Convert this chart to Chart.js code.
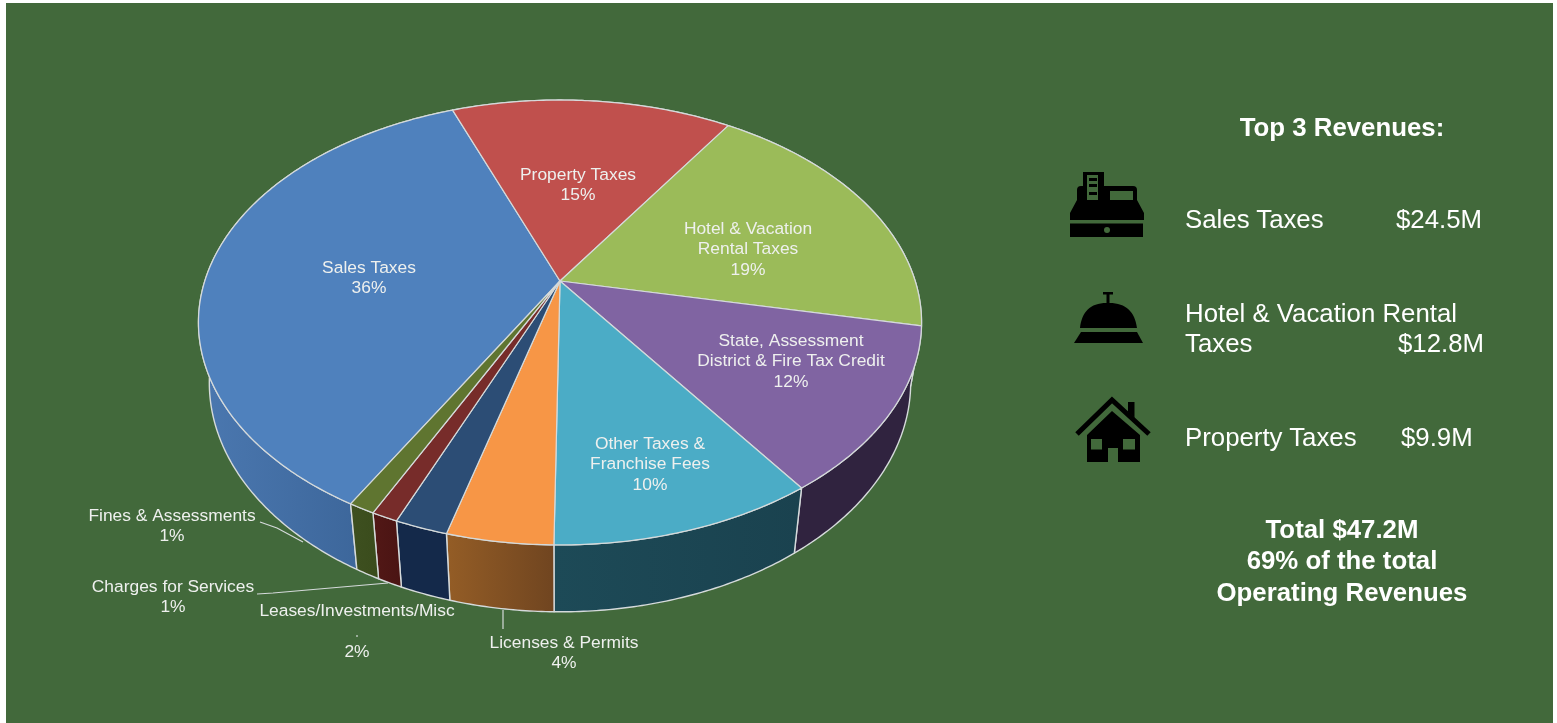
<!DOCTYPE html>
<html>
<head>
<meta charset="utf-8">
<title>Operating Revenues</title>
<script src="https://cdn.jsdelivr.net/npm/chart.js@4"></script>
<style>
  html, body { margin: 0; padding: 0; background: #fff; width: 1557px; height: 723px; overflow: hidden; }
  body { position: relative; font-family: "Liberation Sans", Arial, sans-serif; }
  #panel { position: absolute; left: 6px; top: 3px; width: 1547px; height: 720px; background: #42693b; }
  #revenueChart { position: absolute; left: 0; top: 0; }
  #icons { position: absolute; left: 0; top: 0; }
  .side { position: absolute; color: #fff; font-size: 25.8px; line-height: 30px; white-space: nowrap; }
  .head { font-weight: bold; text-align: center; width: 400px; left: 1142px; font-size: 25.8px; }
</style>
</head>
<body>
<div id="panel"></div>
<canvas id="revenueChart" width="1557" height="723"></canvas>

<svg id="icons" width="1557" height="723" viewBox="0 0 1557 723">
  <!-- cash register -->
  <path d="M1083 172h21v14h29a4 4 0 0 1 4 4v10l7 13v7h-74v-7l7-13v-10a4 4 0 0 1 4-4h2z" fill="#000"/>
  <rect x="1070" y="223.500" width="73" height="13.500" fill="#000"/>
  <rect x="1110" y="191" width="23" height="9" fill="#42693b"/>
  <path d="M1087 175h11v25h-11z" fill="#42693b"/>
  <path d="M1089 178h8v3h-8zM1089 184h8v3h-8zM1089 192h8v3h-8z" fill="#000"/>
  <circle cx="1107" cy="230" r="3" fill="#42693b"/>
  <!-- service bell -->
  <path d="M1103 292h10v2.500h-3.500v8.500C1126 303 1135 312 1137 328H1080C1082 312 1090 303 1106.500 303v-8.500h-3.500z" fill="#000"/>
  <path d="M1081 332h56l6 11h-69z" fill="#000"/>
  <!-- house -->
  <path d="M1077 434L1112 400L1149 434" fill="none" stroke="#000" stroke-width="5"/>
  <path d="M1128 402h6.500v16l-6.500-6z" fill="#000"/>
  <path d="M1087 435L1112 411L1140 435V462H1118V448H1108V462H1087z" fill="#000"/>
  <rect x="1091" y="439" width="11" height="10.500" fill="#42693b"/>
  <rect x="1123" y="439" width="12" height="10.500" fill="#42693b"/>
</svg>

<div class="side head" style="top:112px">Top 3 Revenues:</div>
<div class="side" style="left:1185px;top:204px">Sales Taxes</div>
<div class="side" style="left:1396px;top:204px">$24.5M</div>
<div class="side" style="left:1185px;top:298px">Hotel &amp; Vacation Rental</div>
<div class="side" style="left:1185px;top:328px">Taxes</div>
<div class="side" style="left:1398px;top:328px">$12.8M</div>
<div class="side" style="left:1185px;top:422px">Property Taxes</div>
<div class="side" style="left:1401px;top:422px">$9.9M</div>
<div class="side head" style="top:514px">Total $47.2M</div>
<div class="side head" style="top:545px">69% of the total</div>
<div class="side head" style="top:577px">Operating Revenues</div>

<script>
const categories = [
  'Sales Taxes',
  'Property Taxes',
  'Hotel & Vacation Rental Taxes',
  'State, Assessment District & Fire Tax Credit',
  'Other Taxes & Franchise Fees',
  'Licenses & Permits',
  'Leases/Investments/Misc',
  'Charges for Services',
  'Fines & Assessments',
];
const sharePercent = [36, 15, 19, 12, 10, 4, 2, 1, 1];

const topColors = ['#4f81bd', '#c0504d', '#9bbb59', '#8064a2', '#4bacc6', '#f79646', '#2c4d75', '#772c2a', '#5f7530'];
const wallLeft = ['#4b78b0', '#8c3a37', '#71883f', '#30233f', '#1d4a57', '#945d26', '#14294a', '#521816', '#3e5020'];
const wallRight = ['#345c8e', '#6e2d2b', '#5a6d33', '#30233f', '#1a424f', '#704520', '#14294a', '#4a1413', '#3a4c1c'];

// wrapped label lines and their centre positions, one entry per slice
const labelLines = [
  ['Sales Taxes'],
  ['Property Taxes'],
  ['Hotel & Vacation', 'Rental Taxes'],
  ['State, Assessment', 'District & Fire Tax Credit'],
  ['Other Taxes &', 'Franchise Fees'],
  ['Licenses & Permits'],
  ['Leases/Investments/Misc', ''],
  ['Charges for Services'],
  ['Fines & Assessments'],
];
const labelAnchors = [[369, 268], [578, 175], [748, 229], [791, 341], [650, 444], [564, 643], [357, 611], [173, 587], [172, 516]];
const leaderLines = [
  [[260, 522], [277, 528], [303, 542]],
  [[257, 594], [273, 593], [388, 583]],
  [[503, 610], [503, 629]],
  [[357, 635], [357, 637]],
];

// perspective of the pie disc and offset of its lower rim
const view = { spreadX: 1.264, spreadY: 0.764, tilt: 0.1865, rimScaleX: 0.97, rimScaleY: 1.03, rimDrop: 59 };
const edgeColor = '#d5dadb';

function topPoint(arc, angle) {
  const ux = Math.cos(angle);
  const uy = Math.sin(angle);
  const w = 1 - view.tilt * uy;
  const r = arc.outerRadius;
  return [arc.x + r * view.spreadX * ux / w, arc.y + r * view.spreadY * uy / w];
}

function rimPoint(arc, angle) {
  const p = topPoint(arc, angle);
  return [arc.x + view.rimScaleX * (p[0] - arc.x), arc.y + view.rimDrop + view.rimScaleY * (p[1] - arc.y)];
}

function arcPoints(arc, pointAt) {
  const steps = Math.max(2, Math.ceil((arc.endAngle - arc.startAngle) / 0.01));
  const points = [];
  for (let i = 0; i <= steps; i++) {
    points.push(pointAt(arc, arc.startAngle + (arc.endAngle - arc.startAngle) * i / steps));
  }
  return points;
}

function tracePath(ctx, points) {
  points.forEach((p, i) => (i ? ctx.lineTo(p[0], p[1]) : ctx.moveTo(p[0], p[1])));
}

const tiltedPie = {
  id: 'tiltedPie',
  beforeDatasetDraw(chart, args) {
    const ctx = chart.ctx;
    const arcs = args.meta.data;
    ctx.save();
    ctx.lineJoin = 'round';
    ctx.strokeStyle = edgeColor;

    // side walls first, the top faces cover whatever is hidden behind them
    arcs.forEach((arc, i) => {
      const top = arcPoints(arc, topPoint);
      const rim = arcPoints(arc, rimPoint);
      const xs = top.concat(rim).map((p) => p[0]);
      const fill = ctx.createLinearGradient(Math.min(...xs), 0, Math.max(...xs), 0);
      fill.addColorStop(0, wallLeft[i]);
      fill.addColorStop(1, wallRight[i]);
      ctx.beginPath();
      tracePath(ctx, top.concat(rim.slice().reverse()));
      ctx.closePath();
      ctx.fillStyle = fill;
      ctx.fill();
      ctx.lineWidth = 1.4;
      ctx.stroke();
    });

    arcs.forEach((arc) => {
      ctx.beginPath();
      tracePath(ctx, [[arc.x, arc.y]].concat(arcPoints(arc, topPoint)));
      ctx.closePath();
      ctx.fillStyle = arc.options.backgroundColor;
      ctx.fill();
      ctx.lineWidth = 1.2;
      ctx.stroke();
    });
    ctx.restore();
    return false;
  },
  afterDatasetsDraw(chart) {
    const ctx = chart.ctx;
    ctx.save();
    ctx.strokeStyle = edgeColor;
    ctx.lineWidth = 1.2;
    leaderLines.forEach((line) => {
      ctx.beginPath();
      tracePath(ctx, line);
      ctx.stroke();
    });

    ctx.font = '17.4px "Liberation Sans", Arial, sans-serif';
    ctx.fillStyle = '#eef0ee';
    ctx.textAlign = 'center';
    ctx.textBaseline = 'middle';
    categories.forEach((name, i) => {
      const lines = labelLines[i].concat(sharePercent[i] + '%');
      lines.forEach((text, n) => {
        ctx.fillText(text, labelAnchors[i][0], labelAnchors[i][1] + n * 20.7);
      });
    });
    ctx.restore();
  },
};

new Chart(document.getElementById('revenueChart'), {
  type: 'pie',
  data: {
    labels: categories,
    datasets: [
      {
        data: sharePercent,
        backgroundColor: topColors,
        borderWidth: 0,
      },
    ],
  },
  options: {
    responsive: false,
    animation: false,
    rotation: 209.6,
    layout: { padding: { left: 199, right: 636, top: 0, bottom: 161 } },
    plugins: {
      legend: { display: false },
      tooltip: { enabled: false },
    },
  },
  plugins: [tiltedPie],
});
</script>
</body>
</html>
